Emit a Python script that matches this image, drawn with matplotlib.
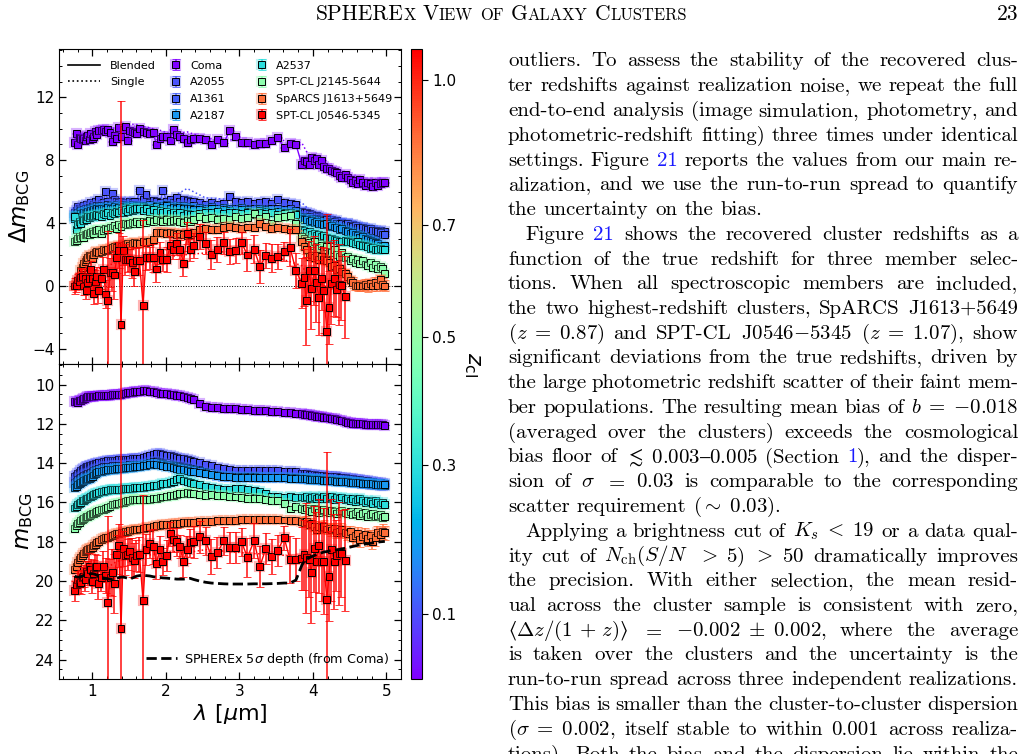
import re
import numpy as np
import matplotlib
matplotlib.use('Agg')
import matplotlib.pyplot as plt
import matplotlib.patheffects as pe
from matplotlib.colors import Normalize, to_rgba
from matplotlib.cm import ScalarMappable
from matplotlib.lines import Line2D
from matplotlib.ticker import MultipleLocator

W, H = 1026, 754

# ---------------- data ----------------
names = ['Coma', 'A2055', 'A1361', 'A2187', 'A2537',
         'SPT-CL J2145-5644', 'SpARCS J1613+5649', 'SPT-CL J0546-5345']
z_cl = [0.023, 0.102, 0.117, 0.183, 0.295, 0.48, 0.87, 1.07]
cbar_ticks = [0.1, 0.3, 0.5, 0.7, 1.0]

# SPHEREx channel centres [um], 6 bands x 17 channels
lam = [0.76, 0.78, 0.80, 0.82, 0.84, 0.86, 0.88, 0.90, 0.92, 0.94, 0.96, 0.98, 1.00, 1.02, 1.04, 1.06, 1.08,
       1.12, 1.15, 1.18, 1.21, 1.24, 1.27, 1.30, 1.33, 1.36, 1.39, 1.42, 1.45, 1.48, 1.51, 1.54, 1.57, 1.60,
       1.64, 1.69, 1.73, 1.78, 1.83, 1.87, 1.92, 1.96, 2.01, 2.06, 2.10, 2.15, 2.19, 2.24, 2.29, 2.33, 2.38,
       2.46, 2.54, 2.62, 2.70, 2.79, 2.87, 2.95, 3.03, 3.11, 3.20, 3.28, 3.36, 3.44, 3.52, 3.61, 3.69, 3.77,
       3.85, 3.88, 3.91, 3.95, 3.98, 4.02, 4.05, 4.08, 4.12, 4.15, 4.19, 4.22, 4.25, 4.29, 4.32, 4.36, 4.39,
       4.44, 4.47, 4.51, 4.54, 4.58, 4.61, 4.64, 4.68, 4.71, 4.75, 4.78, 4.81, 4.85, 4.88, 4.92, 4.95, 4.98]

# bottom panel: m_BCG (blended)
m_coma = [10.88, 10.85, 10.90, 10.82, 10.80, 10.75, 10.72, 10.70, 10.65, 10.62, 10.62, 10.60, 10.60, 10.60, 10.58, 10.58, 10.57,
          10.57, 10.55, 10.55, 10.53, 10.53, 10.52, 10.52, 10.50, 10.50, 10.48, 10.46, 10.44, 10.42, 10.40, 10.38, 10.36, 10.34,
          10.33, 10.30, 10.30, 10.33, 10.37, 10.40, 10.43, 10.45, 10.47, 10.50, 10.52, 10.55, 10.57, 10.60, 10.65, 10.70, 10.75,
          10.95, 11.10, 11.15, 11.17, 11.20, 11.20, 11.22, 11.25, 11.27, 11.30, 11.32, 11.33, 11.35, 11.37, 11.40, 11.42, 11.45,
          11.48, 11.50, 11.52, 11.54, 11.56, 11.58, 11.60, 11.62, 11.64, 11.66, 11.68, 11.70, 11.72, 11.74, 11.77, 11.80, 11.84,
          11.88, 11.92, 11.95, 11.97, 11.98, 12.00, 12.00, 12.00, 12.02, 12.02, 12.03, 12.03, 12.04, 12.04, 12.05, 12.05, 12.06]
m_a2055 = [14.67, 14.60, 14.52, 14.45, 14.38, 14.32, 14.27, 14.22, 14.18, 14.15, 14.12, 14.10, 14.07, 14.05, 14.02, 14.00, 13.98,
           13.95, 13.92, 13.90, 13.88, 13.87, 13.86, 13.85, 13.84, 13.83, 13.82, 13.82, 13.81, 13.80, 13.79, 13.78, 13.77, 13.76,
           13.74, 13.72, 13.68, 13.62, 13.55, 13.50, 13.52, 13.56, 13.60, 13.63, 13.66, 13.70, 13.74, 13.78, 13.82, 13.86, 13.90,
           13.98, 14.05, 14.12, 14.20, 14.28, 14.33, 14.35, 14.36, 14.36, 14.37, 14.37, 14.38, 14.38, 14.39, 14.40, 14.41, 14.42,
           14.50, 14.52, 14.54, 14.55, 14.57, 14.58, 14.60, 14.61, 14.62, 14.63, 14.65, 14.66, 14.67, 14.68, 14.70, 14.71, 14.72,
           14.74, 14.76, 14.78, 14.80, 14.82, 14.83, 14.85, 14.87, 14.88, 14.90, 14.92, 14.94, 14.96, 14.98, 15.00, 15.02, 15.04]
m_a1361 = [15.00, 14.92, 14.85, 14.78, 14.72, 14.66, 14.62, 14.58, 14.55, 14.52, 14.50, 14.46, 14.42, 14.38, 14.34, 14.30, 14.26,
           14.22, 14.19, 14.17, 14.16, 14.15, 14.14, 14.13, 14.12, 14.12, 14.11, 14.10, 14.10, 14.09, 14.08, 14.08, 14.07, 14.07,
           14.06, 14.04, 14.00, 13.95, 13.90, 13.92, 13.96, 14.00, 14.04, 14.07, 14.10, 14.14, 14.18, 14.22, 14.24, 14.26, 14.30,
           14.36, 14.45, 14.55, 14.62, 14.67, 14.68, 14.69, 14.70, 14.70, 14.70, 14.71, 14.71, 14.72, 14.72, 14.72, 14.73, 14.74,
           14.76, 14.77, 14.78, 14.78, 14.79, 14.80, 14.80, 14.81, 14.82, 14.82, 14.83, 14.84, 14.85, 14.86, 14.87, 14.88, 14.89,
           14.90, 14.92, 14.93, 14.95, 14.96, 14.98, 15.00, 15.01, 15.03, 15.04, 15.06, 15.07, 15.09, 15.10, 15.12, 15.13, 15.14]
m_a2187 = [15.26, 15.18, 15.10, 15.02, 14.96, 14.92, 14.88, 14.85, 14.82, 14.80, 14.78, 14.72, 14.66, 14.60, 14.54, 14.48, 14.44,
           14.41, 14.38, 14.36, 14.34, 14.32, 14.31, 14.30, 14.29, 14.28, 14.27, 14.25, 14.24, 14.22, 14.21, 14.20, 14.19, 14.18,
           14.17, 14.14, 14.10, 14.06, 14.04, 14.06, 14.09, 14.12, 14.15, 14.18, 14.22, 14.26, 14.30, 14.33, 14.36, 14.40, 14.43,
           14.46, 14.52, 14.58, 14.64, 14.67, 14.70, 14.72, 14.73, 14.73, 14.74, 14.74, 14.74, 14.75, 14.75, 14.75, 14.76, 14.76,
           14.78, 14.79, 14.80, 14.81, 14.82, 14.82, 14.83, 14.84, 14.85, 14.86, 14.87, 14.88, 14.89, 14.90, 14.91, 14.92, 14.93,
           14.94, 14.95, 14.96, 14.97, 14.98, 14.99, 15.00, 15.01, 15.02, 15.03, 15.04, 15.05, 15.06, 15.07, 15.08, 15.09, 15.10]
m_a2537 = [16.28, 16.20, 16.12, 16.05, 15.98, 15.92, 15.88, 15.84, 15.80, 15.77, 15.72, 15.68, 15.64, 15.60, 15.56, 15.52, 15.48,
           15.45, 15.43, 15.40, 15.38, 15.36, 15.35, 15.34, 15.34, 15.33, 15.32, 15.31, 15.30, 15.29, 15.28, 15.27, 15.26, 15.25,
           15.25, 15.22, 15.20, 15.18, 15.15, 15.12, 15.08, 15.05, 15.02, 15.00, 14.95, 14.85, 14.80, 14.88, 14.95, 15.00, 15.05,
           15.10, 15.18, 15.22, 15.28, 15.32, 15.34, 15.30, 15.28, 15.36, 15.40, 15.43, 15.55, 15.70, 15.68, 15.72, 15.70, 15.75,
           15.72, 15.76, 15.70, 15.78, 15.74, 15.68, 15.80, 15.72, 15.78, 15.70, 15.82, 15.75, 15.70, 15.85, 15.76, 15.80, 15.72,
           15.85, 15.78, 15.90, 15.82, 15.95, 15.86, 15.80, 15.92, 16.00, 15.88, 15.95, 16.05, 15.92, 16.00, 16.10, 15.98, 16.10]
m_j2145 = [17.30, 17.18, 17.08, 17.00, 16.92, 16.86, 16.80, 16.76, 16.72, 16.70, 16.66, 16.62, 16.58, 16.54, 16.50, 16.46, 16.42,
           16.38, 16.34, 16.30, 16.24, 16.18, 16.12, 16.08, 16.06, 16.04, 16.02, 16.00, 15.96, 15.92, 15.88, 15.86, 15.85, 15.85,
           15.84, 15.86, 15.85, 15.84, 15.82, 15.80, 15.76, 15.72, 15.68, 15.66, 15.62, 15.58, 15.55, 15.52, 15.51, 15.52, 15.54,
           15.58, 15.62, 15.60, 15.64, 15.65, 15.70, 15.72, 15.75, 15.78, 15.80, 15.82, 15.85, 15.88, 15.92, 16.05, 16.33, 16.20,
           16.30, 16.35, 16.28, 16.40, 16.45, 16.32, 16.38, 16.50, 16.42, 16.35, 16.48, 16.52, 16.40, 16.45, 16.55, 16.48, 16.42,
           16.50, 16.58, 16.45, 16.62, 16.55, 16.48, 16.66, 16.58, 16.52, 16.70, 16.60, 16.55, 16.72, 16.65, 16.60, 16.75, 16.70]
m_sparcs = [19.40, 19.25, 19.05, 18.90, 18.78, 18.68, 18.60, 18.52, 18.45, 18.40, 18.36, 18.33, 18.30, 18.20, 18.12, 18.05, 17.98,
            17.90, 17.84, 17.80, 17.76, 17.72, 17.68, 17.64, 17.60, 17.58, 17.55, 17.52, 17.49, 17.46, 17.43, 17.40, 17.38, 17.36,
            17.35, 17.32, 17.28, 17.25, 17.21, 17.18, 17.16, 17.14, 17.12, 17.10, 17.08, 17.06, 17.05, 17.04, 17.03, 17.02, 17.00,
            16.98, 16.96, 16.95, 16.93, 16.92, 16.90, 16.90, 16.88, 16.87, 16.87, 16.86, 16.86, 16.87, 16.88, 16.89, 16.90, 16.92,
            16.96, 17.00, 16.95, 17.13, 17.05, 17.20, 17.40, 17.22, 17.28, 17.20, 17.35, 17.30, 17.40, 17.32, 17.55, 17.45, 17.38,
            17.52, 17.60, 17.48, 17.80, 17.70, 17.58, 17.90, 17.75, 17.62, 17.85, 17.70, 18.00, 17.80, 17.55, 17.65, 17.50, 17.55]
# SPT-CL J0546-5345 has no points beyond 4.44 um
m_spt = [20.50, 20.20, 19.90, 20.10, 20.05, 19.80, 19.75, 19.90, 19.50, 19.60, 19.25, 19.40, 20.00, 19.60, 19.30, 19.25, 20.10,
         19.80, 19.25, 19.70, 21.10, 19.80, 19.55, 20.10, 18.65, 18.20, 22.40, 18.35, 18.70, 18.65, 18.50, 18.80, 18.95, 18.70,
         18.65, 21.00, 18.40, 18.10, 18.25, 19.10, 18.40, 19.00, 18.70, 17.60, 17.90, 18.00, 18.25, 19.00, 18.40, 18.05, 18.00,
         17.75, 17.95, 18.75, 18.55, 17.95, 18.30, 18.30, 18.00, 18.80, 17.95, 19.25, 18.35, 18.75, 18.45, 17.80, 18.90, 18.90,
         18.87, 18.67, 18.82, 18.90, 19.55, 18.36, 19.00, 18.20, 19.00, 19.00, 20.94, 19.75, 18.40, 19.00, 18.70, 18.60, 18.60,
         18.94]

# top panel: Delta m_BCG (blended)
dm_coma = [9.10, 9.70, 9.00, 9.45, 9.35, 9.30, 9.40, 9.25, 9.50, 9.60, 9.30, 9.70, 9.40, 9.50, 9.80, 9.65, 9.90,
           9.90, 9.95, 9.80, 9.95, 9.75, 9.20, 9.60, 9.35, 10.10, 9.50, 9.95, 10.15, 9.25, 9.90, 9.80, 9.75, 9.70,
           10.00, 9.80, 9.75, 9.70, 9.75, 9.00, 9.35, 9.50, 9.50, 9.25, 9.95, 9.66, 9.50, 9.40, 9.10, 9.30, 9.40,
           9.40, 9.30, 9.00, 9.30, 9.10, 9.90, 9.50, 9.10, 9.15, 9.00, 9.05, 9.05, 9.25, 9.45, 8.80, 9.05, 9.00,
           7.74, 8.00, 7.90, 7.74, 8.17, 8.00, 8.10, 7.74, 8.00, 7.60, 7.47, 7.47, 7.37, 7.30, 7.20, 7.00, 6.90,
           7.10, 6.90, 6.80, 6.60, 6.70, 6.50, 6.80, 6.60, 6.40, 6.60, 6.50, 6.30, 6.60, 6.40, 6.50, 6.60, 6.60]
dm_a2055 = [4.67, 4.80, 5.05, 4.90, 4.85, 5.00, 5.10, 4.95, 5.20, 5.00, 5.10, 5.30, 5.15, 5.20, 5.40, 5.10, 5.50,
            5.27, 5.30, 6.00, 5.40, 5.20, 5.90, 5.50, 5.37, 5.30, 5.40, 5.25, 5.30, 5.20, 5.35, 5.30, 5.40, 5.20,
            6.10, 5.50, 5.80, 5.30, 5.45, 5.40, 5.30, 6.05, 5.40, 5.50, 5.30, 5.60, 5.40, 5.50, 5.45, 5.35, 5.37,
            5.30, 5.20, 5.30, 5.16, 5.25, 5.70, 5.40, 5.30, 5.35, 5.27, 5.30, 5.40, 5.25, 5.50, 5.30, 5.27, 5.20,
            4.73, 4.70, 4.65, 4.60, 4.55, 4.42, 4.50, 4.45, 4.35, 4.30, 4.30, 4.25, 4.20, 4.10, 4.15, 4.00, 4.05,
            3.90, 4.00, 3.85, 3.90, 3.75, 3.80, 3.60, 3.70, 3.55, 3.60, 3.45, 3.50, 3.30, 3.40, 3.55, 3.35, 3.45]
dm_a1361 = [4.50, 4.60, 4.70, 4.75, 4.80, 4.70, 4.85, 4.90, 4.80, 4.95, 5.00, 4.90, 5.05, 5.00, 4.95, 5.10, 5.05,
            5.10, 5.15, 5.05, 5.20, 5.10, 5.00, 5.15, 5.20, 5.05, 5.10, 5.20, 5.15, 5.00, 5.10, 5.20, 5.05, 5.15,
            5.05, 5.15, 5.10, 5.20, 5.00, 5.10, 5.05, 5.15, 5.20, 5.10, 5.00, 5.05, 5.15, 5.10, 5.00, 5.05, 5.10,
            5.00, 4.95, 5.05, 4.90, 5.00, 4.95, 4.90, 5.00, 4.85, 4.95, 4.90, 4.85, 4.90, 4.95, 4.85, 4.90, 4.80,
            4.45, 4.40, 4.35, 4.40, 4.30, 4.25, 4.30, 4.20, 4.25, 4.15, 4.20, 4.10, 4.05, 4.10, 4.00, 3.95, 4.00,
            3.90, 3.95, 3.85, 3.80, 3.85, 3.75, 3.70, 3.75, 3.65, 3.60, 3.65, 3.55, 3.50, 3.45, 3.40, 3.30, 3.25]
dm_a2187 = [4.30, 4.40, 4.50, 4.45, 4.60, 4.55, 4.65, 4.70, 4.60, 4.75, 4.70, 4.80, 4.75, 4.85, 4.80, 4.90, 4.85,
            4.90, 4.95, 4.85, 5.00, 4.90, 4.95, 5.05, 4.90, 5.00, 4.95, 5.05, 5.00, 4.90, 5.00, 5.05, 4.95, 5.00,
            4.95, 5.05, 5.00, 4.90, 5.00, 5.05, 4.95, 5.00, 5.10, 4.95, 5.00, 4.90, 5.00, 4.95, 4.90, 4.95, 4.85,
            4.85, 4.80, 4.90, 4.75, 4.85, 4.80, 4.70, 4.85, 4.75, 4.70, 4.80, 4.75, 4.70, 4.75, 4.65, 4.70, 4.60,
            4.30, 4.20, 4.25, 4.10, 4.15, 4.05, 4.10, 3.95, 4.00, 3.90, 3.95, 3.80, 3.85, 3.75, 3.70, 3.60, 3.65,
            3.50, 3.45, 3.35, 3.40, 3.25, 3.20, 3.10, 3.15, 3.00, 2.95, 2.90, 2.80, 2.75, 2.70, 2.60, 2.50, 2.55]
dm_a2537 = [4.42, 3.57, 3.90, 4.10, 4.00, 4.20, 4.15, 4.30, 4.25, 4.40, 4.35, 4.45, 4.40, 4.50, 4.45, 4.55, 4.50,
            4.42, 4.60, 4.55, 4.65, 4.50, 4.70, 4.60, 4.75, 4.65, 4.80, 4.70, 4.85, 4.75, 4.90, 4.80, 4.85, 4.90,
            4.95, 4.80, 4.90, 4.75, 4.85, 4.70, 4.80, 4.65, 4.75, 4.60, 4.70, 4.55, 4.65, 4.50, 4.60, 4.55, 4.52,
            4.60, 4.70, 4.65, 4.75, 4.60, 4.70, 4.65, 4.60, 4.70, 4.55, 4.65, 4.60, 4.70, 4.55, 4.60, 4.50, 4.55,
            3.57, 3.50, 3.40, 3.45, 3.30, 3.35, 3.20, 3.25, 3.14, 3.20, 3.10, 3.00, 3.05, 2.95, 2.90, 2.85, 2.82,
            2.90, 2.80, 2.85, 2.75, 2.70, 2.80, 2.65, 2.55, 2.60, 2.50, 2.40, 2.45, 2.35, 2.30, 2.40, 2.30, 2.30]
dm_j2145 = [2.82, 2.90, 3.00, 3.14, 3.05, 3.20, 3.10, 3.30, 3.25, 3.35, 3.30, 3.40, 3.45, 3.35, 3.50, 3.55, 3.60,
            3.35, 3.50, 3.67, 3.60, 3.75, 3.70, 3.85, 3.67, 3.90, 3.80, 3.95, 4.00, 3.90, 4.00, 4.05, 3.95, 4.10,
            4.00, 4.10, 4.05, 4.15, 4.10, 4.20, 4.15, 4.10, 4.20, 4.10, 4.15, 4.20, 4.10, 4.05, 4.15, 4.10, 4.20,
            4.42, 4.30, 4.35, 4.20, 4.30, 4.25, 4.40, 4.30, 4.35, 4.60, 4.30, 4.45, 4.00, 4.35, 4.40, 4.50, 4.00,
            3.14, 3.00, 2.90, 2.75, 2.60, 2.80, 2.50, 2.40, 2.60, 2.30, 2.50, 2.20, 2.10, 2.30, 2.00, 1.90, 2.10,
            1.80, 1.90, 1.60, 1.75, 1.50, 1.70, 1.44, 1.60, 1.40, 1.30, 1.50, 1.20, 1.35, 1.10, 1.25, 1.13, 0.80]
dm_sparcs = [0.00, 0.10, 0.20, 0.50, 1.00, 1.20, 1.44, 1.55, 1.66, 1.80, 1.97, 1.85, 1.76, 2.00, 2.10, 2.19, 2.10,
             2.20, 2.30, 2.25, 2.35, 2.40, 2.45, 2.50, 2.45, 2.55, 2.50, 2.60, 2.65, 2.72, 2.60, 2.68, 2.75, 2.70,
             2.70, 2.82, 2.75, 2.85, 2.93, 3.40, 3.40, 3.38, 3.35, 3.40, 3.35, 3.30, 3.35, 3.30, 3.20, 3.30, 3.40,
             3.57, 3.67, 3.57, 3.60, 3.70, 3.78, 3.70, 3.65, 3.75, 3.70, 3.95, 3.80, 3.65, 3.70, 3.67, 3.60, 3.57,
             2.82, 2.50, 2.30, 1.87, 1.97, 1.80, 1.95, 1.66, 1.85, 1.70, 1.60, 1.50, 1.23, 1.30, 1.02, 1.10, 0.90,
             0.80, 0.60, 0.38, 0.20, 0.06, 0.00, 0.05, 0.00, 0.10, 0.00, 0.15, 0.00, 0.20, 0.05, 0.40, 0.10, 0.00]
dm_spt = [0.00, 0.06, 0.38, 0.30, 0.55, 0.60, 0.00, 0.45, -0.30, 0.20, 0.50, 1.06, 0.50, -0.50, 0.30, 0.60, -0.30,
          0.49, 1.06, -0.51, -0.93, 0.85, 0.85, 0.70, 1.80, 2.25, -2.42, 2.25, 1.70, 1.70, 1.66, 1.49, 0.91, 1.60,
          1.60, -1.23, 1.83, 1.80, 1.80, 1.08, 2.12, 1.66, 1.66, 2.55, 2.34, 2.68, 2.34, 1.44, 3.35, 2.30, 2.55,
          3.14, 2.72, 2.00, 2.30, 2.76, 2.20, 2.25, 2.76, 1.97, 2.34, 1.23, 1.93, 1.76, 1.90, 2.17, 2.44, 0.98,
          0.17, 0.53, -0.93, 0.96, -0.15, 1.00, 0.20, -0.74, 0.50, -0.30, -2.90, -1.36, 0.17, 0.50, -0.20, 0.10, 0.05,
          -0.68]

# 1-sigma errors (same in both panels)
e_spt = [0.50, 0.45, 0.40, 0.50, 0.60, 0.50, 0.55, 0.60, 0.50, 0.60, 0.70, 0.50, 0.60, 0.65, 0.70, 0.60, 0.80,
         0.70, 0.80, 0.90, 4.40, 0.90, 1.20, 1.50, 1.00, 1.10, 14.2, 0.90, 1.00, 0.80, 0.70, 1.00, 0.90, 0.80,
         0.90, 5.40, 0.80, 0.70, 0.90, 0.80, 0.70, 0.70, 0.80, 0.60, 0.60, 0.70, 0.60, 0.80, 0.70, 0.70, 0.80,
         0.80, 0.70, 0.90, 0.80, 0.70, 0.80, 0.80, 0.70, 1.00, 0.90, 1.05, 0.80, 0.90, 0.80, 0.60, 1.20, 1.10,
         1.60, 1.80, 2.80, 1.90, 2.60, 2.20, 2.50, 2.40, 2.00, 2.70, 7.50, 2.30, 2.60, 2.40, 1.80, 2.60, 2.20,
         2.60]
e_sparcs = [0.12, 0.10, 0.10, 0.08, 0.08, 0.08, 0.07, 0.07, 0.07, 0.06, 0.06, 0.06, 0.06, 0.06, 0.06, 0.06, 0.06,
            0.06, 0.06, 0.06, 0.06, 0.06, 0.06, 0.06, 0.06, 0.06, 0.06, 0.06, 0.06, 0.06, 0.06, 0.06, 0.06, 0.06,
            0.05, 0.05, 0.05, 0.05, 0.05, 0.05, 0.05, 0.05, 0.05, 0.05, 0.05, 0.05, 0.05, 0.05, 0.05, 0.05, 0.05,
            0.06, 0.06, 0.06, 0.06, 0.06, 0.06, 0.06, 0.06, 0.06, 0.06, 0.06, 0.06, 0.06, 0.06, 0.06, 0.06, 0.06,
            0.20, 0.22, 0.25, 0.20, 0.24, 0.26, 0.22, 0.28, 0.25, 0.30, 0.27, 0.25, 0.30, 0.28, 0.26, 0.30, 0.32,
            0.30, 0.32, 0.28, 0.35, 0.30, 0.33, 0.36, 0.30, 0.34, 0.38, 0.32, 0.35, 0.40, 0.36, 0.33, 0.38, 0.35]
e_typical = [0.02, 0.04, 0.04, 0.05, 0.06, 0.08]   # Coma .. SPT-CL J2145 (bars hidden by markers)

# "Single" (dotted) curves, every fourth channel
s_dm = [
    [9.3, 9.5, 9.6, 9.8, 9.9, 10.1, 10.0, 10.2, 10.3, 10.1, 9.9, 9.6, 9.8, 9.4, 9.3, 9.2, 9.3, 9.1, 8.0, 7.9, 7.6, 7.3, 6.9, 6.8, 6.6, 6.7],
    [4.8, 5.0, 5.3, 5.2, 5.5, 5.6, 5.5, 5.4, 5.5, 5.6, 5.5, 5.7, 6.2, 5.6, 5.5, 5.4, 5.6, 5.3, 4.7, 4.5, 4.3, 4.2, 3.9, 3.8, 3.6, 3.5],
    [4.6, 4.8, 4.9, 5.0, 5.1, 5.2, 5.1, 5.2, 5.1, 5.2, 5.1, 5.2, 5.1, 5.0, 5.0, 4.9, 4.95, 4.85, 4.3, 4.25, 4.1, 4.0, 3.85, 3.7, 3.55, 3.3],
    [4.4, 4.6, 4.7, 4.8, 4.9, 5.0, 5.0, 5.0, 5.0, 5.1, 5.0, 5.0, 4.9, 4.85, 4.85, 4.75, 4.7, 4.6, 4.15, 4.0, 3.85, 3.65, 3.3, 3.1, 2.9, 2.6],
    [3.8, 4.1, 4.3, 4.4, 4.5, 4.6, 4.7, 4.8, 4.8, 4.8, 4.8, 4.7, 4.6, 4.6, 4.7, 4.6, 4.7, 4.5, 3.4, 3.2, 3.05, 2.9, 2.75, 2.6, 2.5, 2.4],
    [3.0, 3.1, 3.3, 3.4, 3.5, 3.6, 3.8, 3.9, 4.0, 4.1, 4.1, 4.1, 4.1, 4.4, 4.3, 4.3, 4.1, 4.1, 2.7, 2.5, 2.2, 2.0, 1.6, 1.5, 1.3, 1.1],
    [0.1, 0.9, 1.6, 1.8, 2.0, 2.3, 2.4, 2.6, 2.7, 2.8, 3.3, 3.3, 3.3, 3.5, 3.7, 3.7, 3.6, 3.5, 1.9, 1.8, 1.5, 1.0, 0.2, 0.1, 0.1, 0.2],
    [0.2, 0.4, 0.6, 0.9, 1.1, 1.3, 1.5, 1.4, 1.3, 1.5, 1.6, 1.9, 2.0, 2.1, 2.2, 2.0, 1.8, 1.3, 0.3, 0.1, -0.2, 0.0],
]
s_m = [
    [10.85, 10.8, 10.68, 10.62, 10.58, 10.54, 10.52, 10.46, 10.38, 10.32, 10.40, 10.50, 10.62, 10.95, 11.18, 11.27, 11.36, 11.44, 11.56, 11.63, 11.70, 11.82, 11.96, 12.0, 12.03, 12.05],
    [14.65, 14.4, 14.2, 14.1, 14.0, 13.9, 13.86, 13.82, 13.78, 13.73, 13.5, 13.63, 13.78, 13.98, 14.28, 14.36, 14.38, 14.42, 14.57, 14.62, 14.67, 14.72, 14.79, 14.86, 14.93, 15.0],
    [15.0, 14.74, 14.56, 14.44, 14.28, 14.17, 14.13, 14.11, 14.08, 14.05, 13.92, 14.07, 14.22, 14.36, 14.67, 14.7, 14.72, 14.74, 14.79, 14.82, 14.86, 14.89, 14.95, 15.01, 15.07, 15.12],
    [15.24, 14.98, 14.84, 14.68, 14.46, 14.35, 14.3, 14.25, 14.2, 14.15, 14.05, 14.18, 14.33, 14.46, 14.67, 14.73, 14.75, 14.76, 14.82, 14.85, 14.89, 14.93, 14.97, 15.01, 15.05, 15.09],
    [16.26, 16.0, 15.82, 15.66, 15.5, 15.39, 15.35, 15.32, 15.28, 15.24, 15.16, 15.02, 14.9, 15.12, 15.3, 15.32, 15.68, 15.74, 15.75, 15.76, 15.72, 15.74, 15.84, 15.92, 15.96, 16.04],
    [17.25, 16.95, 16.74, 16.6, 16.44, 16.22, 16.08, 16.0, 15.86, 15.86, 15.82, 15.66, 15.52, 15.58, 15.66, 15.78, 15.88, 16.15, 16.42, 16.42, 16.45, 16.45, 16.6, 16.56, 16.62, 16.7],
    [19.3, 18.8, 18.5, 18.35, 18.05, 17.8, 17.62, 17.52, 17.42, 17.34, 17.22, 17.1, 17.05, 17.0, 16.93, 16.89, 16.88, 16.93, 17.08, 17.28, 17.42, 17.42, 17.72, 17.74, 17.8, 17.6],
    [20.1, 19.9, 19.7, 19.6, 19.5, 19.3, 19.0, 18.9, 18.8, 18.7, 18.6, 18.5, 18.55, 18.4, 18.5, 18.6, 18.65, 18.8, 18.9, 19.0, 19.1, 18.9],
]

# SPHEREx 5-sigma depth (from Coma)
depth = [19.75, 19.78, 19.80, 19.80, 19.78, 19.75, 19.72, 19.70, 19.68, 19.66, 19.64, 19.62, 19.62, 19.64, 19.66, 19.70, 19.74,
         19.80, 19.84, 19.86, 19.88, 19.90, 19.92, 19.90, 19.86, 19.82, 19.80, 19.80, 19.82, 19.86, 19.90, 19.85, 19.80, 19.75,
         19.72, 19.70, 19.72, 19.74, 19.78, 19.80, 19.82, 19.84, 19.85, 19.87, 19.88, 19.90, 19.90, 19.90, 19.88, 19.86, 19.92,
         20.00, 20.06, 20.10, 20.12, 20.14, 20.15, 20.15, 20.15, 20.15, 20.14, 20.14, 20.14, 20.13, 20.12, 20.10, 20.10, 19.95,
         19.20, 19.00, 18.90, 18.82, 18.76, 18.70, 18.65, 18.60, 18.56, 18.52, 18.50, 18.47, 18.45, 18.43, 18.41, 18.39, 18.36,
         18.33, 18.30, 18.27, 18.24, 18.21, 18.18, 18.16, 18.14, 18.12, 18.10, 18.08, 18.06, 18.04, 18.02, 18.00, 17.99, 17.98]

# ---------------- figure ----------------
fig = plt.figure(figsize=(W / 100, H / 100), dpi=100)


def fx(px):
    return px / W


def fy(py):
    return 1 - py / H


ax_top = fig.add_axes([fx(59.3), fy(364), (401 - 59.3) / W, (364 - 49.3) / H])
ax_bot = fig.add_axes([fx(59.3), fy(679.3), (401 - 59.3) / W, (679.3 - 364) / H], sharex=ax_top)
cax = fig.add_axes([fx(411), fy(679.3), 11 / W, (679.3 - 49.3) / H])

lz = np.log10(1 + np.array(z_cl))
norm = Normalize(vmin=lz.min(), vmax=lz.max())
cmap = plt.get_cmap('rainbow')
colors = [cmap(norm(v)) for v in lz]

dm_all = [dm_coma, dm_a2055, dm_a1361, dm_a2187, dm_a2537, dm_j2145, dm_sparcs, dm_spt]
m_all = [m_coma, m_a2055, m_a1361, m_a2187, m_a2537, m_j2145, m_sparcs, m_spt]
err_all = e_typical + [e_sparcs, e_spt]


def draw_cluster(ax, y, err, ys, color, zo, label):
    x = lam[:len(y)]
    xs = lam[:len(y):4]
    ax.plot(x, y, '-', color=color, lw=1.0, zorder=zo)
    ax.plot(xs, ys, ':', color=color, lw=1.1, zorder=zo)
    c = ax.errorbar(x, y, yerr=err, fmt='s', ms=5, mfc=color, mec='k', mew=0.7,
                    ecolor=to_rgba(color, 0.8), elinewidth=1.3, capsize=3, capthick=1.2,
                    zorder=zo + 0.05, label=label)
    c[0].set_path_effects([pe.withStroke(linewidth=3.0, foreground=color, alpha=0.3)])
    return c


conts = []
for i in range(len(names)):
    conts.append(draw_cluster(ax_top, dm_all[i], err_all[i], s_dm[i], colors[i], 2 + i * 0.1, names[i]))
    draw_cluster(ax_bot, m_all[i], err_all[i], s_m[i], colors[i], 2 + i * 0.1, names[i])

ax_top.axhline(0, color='k', lw=0.7, ls=':', zorder=1)
depth_line, = ax_bot.plot(lam, depth, '--', color='k', lw=2, zorder=3)

ax_top.set_xlim(0.55, 5.2)
ax_top.set_ylim(-4.96, 15.05)
ax_bot.set_ylim(25.0, 8.95)

for ax in (ax_top, ax_bot):
    ax.tick_params(which='both', direction='in', top=True, right=True, labelsize=11)
    ax.tick_params(which='major', length=5, width=0.9)
    ax.tick_params(which='minor', length=2.5, width=0.7)
    ax.xaxis.set_major_locator(MultipleLocator(1))
    ax.xaxis.set_minor_locator(MultipleLocator(0.2))
ax_top.tick_params(labelbottom=False)
ax_top.yaxis.set_major_locator(MultipleLocator(4))
ax_top.yaxis.set_minor_locator(MultipleLocator(1))
ax_bot.yaxis.set_major_locator(MultipleLocator(2))
ax_bot.yaxis.set_minor_locator(MultipleLocator(0.5))

ax_top.set_ylabel(r'$\Delta m_{\rm BCG}$', fontsize=16.5, labelpad=0)
ax_bot.set_ylabel(r'$m_{\rm BCG}$', fontsize=16.5, labelpad=0)
ax_bot.set_xlabel(r'$\lambda\ [\mu{\rm m}]$', fontsize=16, labelpad=2)

# two legends: line styles and clusters
leg_style = ax_top.legend([Line2D([], [], color='k', lw=1.2), Line2D([], [], color='k', lw=1.2, ls=':')],
                          ['Blended', 'Single'], loc='upper left', bbox_to_anchor=(0.0126, 0.978),
                          borderaxespad=0, fontsize=8, frameon=False, handlelength=2.9,
                          handletextpad=0.9, labelspacing=0.6)
ax_top.add_artist(leg_style)
ax_top.legend(conts, names, ncol=2, loc='upper left', bbox_to_anchor=(0.302, 0.978),
              borderaxespad=0, fontsize=8, frameon=False, handlelength=1.6,
              handletextpad=0.5, columnspacing=2.4, labelspacing=0.6)
ax_bot.legend([depth_line], [r'SPHEREx 5$\sigma$ depth (from Coma)'], loc='lower right',
              fontsize=9.2, frameon=False, handlelength=2.4, handletextpad=0.6)

sm = ScalarMappable(norm=norm, cmap=cmap)
cb = fig.colorbar(sm, cax=cax)
cb.set_ticks(np.log10(1 + np.array(cbar_ticks)))
cb.set_ticklabels(['%.1f' % t for t in cbar_ticks])
cb.ax.tick_params(labelsize=11, length=4, width=0.8)
cb.outline.set_linewidth(0.8)
cb.set_label(r'$z_{\rm cl}$', fontsize=16, rotation=270, labelpad=18)

# ---------------- page text ----------------
renderer = fig.canvas.get_renderer()
serif = ['cmr10', 'DejaVu Serif']
LINK = '#1a1aff'


def measure(t):
    return t.get_window_extent(renderer).width


big, small = 15.5, 11.9
header_words = [[('SPHERE', big), ('X', small)], [('V', big), ('IEW', small)], [('OF', small)],
                [('G', big), ('ALAXY', small)], [('C', big), ('LUSTERS', small)]]
items, total = [], 0
gap = 0.33 * big * 100 / 72
for wi, word in enumerate(header_words):
    for s, size in word:
        t = fig.text(0, fy(20), s, fontsize=size, family=serif, va='baseline')
        w = measure(t)
        items.append((t, w))
        total += w
    if wi < len(header_words) - 1:
        items.append((None, gap))
        total += gap
x = 501 - total / 2
for t, w in items:
    if t is not None:
        t.set_x(fx(x))
    x += w
fig.text(fx(1018), fy(20), '23', fontsize=big, family=serif, va='baseline', ha='right')

body = [
    ('outliers.  To assess the stability of the recovered clus-', True, 0),
    ('ter redshifts against realization noise, we repeat the full', True, 0),
    ('end-to-end analysis (image simulation, photometry, and', True, 0),
    ('photometric-redshift fitting) three times under identical', True, 0),
    ('settings. Figure @21@ reports the values from our main re-', True, 0),
    ('alization, and we use the run-to-run spread to quantify', True, 0),
    ('the uncertainty on the bias.', False, 0),
    ('Figure @21@ shows the recovered cluster redshifts as a', True, 17),
    ('function of the true redshift for three member selec-', True, 0),
    ('tions.  When all spectroscopic members are included,', True, 0),
    ('the two highest-redshift clusters, SpARCS J1613+5649', True, 0),
    (r'($z\;=\;0.87$) and SPT-CL J0546$-$5345 ($z\;=\;1.07$), show', True, 0),
    ('significant deviations from the true redshifts, driven by', True, 0),
    ('the large photometric redshift scatter of their faint mem-', True, 0),
    (r'ber populations. The resulting mean bias of $b\;=\;{-}0.018$', True, 0),
    ('(averaged over the clusters) exceeds the cosmological', True, 0),
    (r'bias floor of $\lesssim\;0.003{–}0.005$ (Section @1@), and the disper-', True, 0),
    (r'sion of $\sigma$ $=$ $0.03$ is comparable to the corresponding', True, 0),
    (r'scatter requirement ($\sim\;0.03$).', False, 0),
    (r'Applying a brightness cut of $K_s\;<\;19$ or a data qual-', True, 17),
    (r'ity cut of $N_{\rm ch}(S/N$ $>$ $5)$ $>$ $50$ dramatically improves', True, 0),
    ('the precision.  With either selection, the mean resid-', True, 0),
    ('ual across the cluster sample is consistent with zero,', True, 0),
    (r'$⟨\Delta z/(1\,+\,z)⟩$ $=$ ${-}0.002\;\pm\;0.002$, where the average', True, 0),
    ('is taken over the clusters and the uncertainty is the', True, 0),
    ('run-to-run spread across three independent realizations.', True, 0),
    ('This bias is smaller than the cluster-to-cluster dispersion', True, 0),
    (r'($\sigma\;=\;0.002$, itself stable to within 0.001 across realiza-', True, 0),
    ('tions). Both the bias and the dispersion lie within the', True, 0),
]

TOKEN = re.compile(r'[^\s$]*(?:\$[^$]*\$[^\s$]*)+|\S+')
body_size = 15.0
space = 0.333 * body_size * 100 / 72
x0, x1 = 508, 1018
for li, (line, justify, indent) in enumerate(body):
    y = 66.5 + li * 24.75
    words = []
    for tok in TOKEN.findall(line):
        parts = []
        for part in re.split(r'(@[^@]*@)', tok):
            if not part:
                continue
            col = LINK if part.startswith('@') else 'black'
            t = fig.text(0, fy(y), part.strip('@'), fontsize=body_size, family=serif,
                         math_fontfamily='cm', color=col, va='baseline')
            parts.append((t, measure(t)))
        words.append(parts)
    widths = [sum(w for _, w in p) for p in words]
    if justify and len(words) > 1:
        g = max((x1 - x0 - indent - sum(widths)) / (len(words) - 1), 0.7 * space)
    else:
        g = space
    x = x0 + indent
    for parts, wsum in zip(words, widths):
        for t, w in parts:
            t.set_x(fx(x))
            x += w
        x += g

fig.savefig('out.png', dpi=100)
